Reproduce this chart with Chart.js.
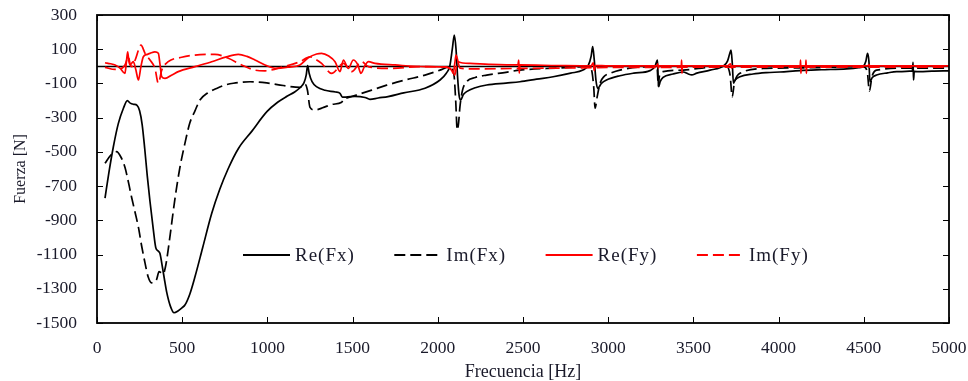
<!DOCTYPE html>
<html>
<head>
<meta charset="utf-8">
<script src="https://cdn.jsdelivr.net/npm/chart.js@4.4.1/dist/chart.umd.min.js"></script>
<style>
html,body{margin:0;padding:0;background:#fff;}
#wrap{width:968px;height:381px;position:relative;}
</style>
</head>
<body>
<div id="wrap"><canvas id="c" width="968" height="381"></canvas></div>
<script>
// ---- data ----
const xTickValues = [0,500,1000,1500,2000,2500,3000,3500,4000,4500,5000];
const yTickValues = [-1500,-1300,-1100,-900,-700,-500,-300,-100,100,300];

const reFxFreq = [47,70,96,125,155,178,195,215,235,250,265,280,295,311,330,345,360,370,380,395,409,430,452,475,500,516,545,575,620,673,720,769,830,908,997,1060,1115,1160,1191,1215,1228,1236,1245,1262,1290,1338,1400,1426,1440,1460,1514,1573,1602,1650,1708,1800,1925,2013,2050,2070,2085,2097,2107,2116,2125,2134,2150,2169,2220,2287,2400,2482,2580,2677,2780,2852,2883,2900,2909,2918,2928,2938,2960,2990,3069,3150,3245,3275,3289,3292,3296,3305,3322,3380,3440,3470,3490,3520,3598,3680,3700,3712,3721,3728,3735,3745,3773,3850,3929,4008,4126,4250,4399,4470,4497,4512,4522,4530,4536,4550,4575,4640,4693,4785,4789,4792,4796,4830,4900,5000];
const reFxVal = [-770,-620,-470,-335,-245,-200,-215,-222,-228,-260,-340,-480,-640,-790,-950,-1060,-1080,-1095,-1150,-1240,-1320,-1400,-1440,-1430,-1410,-1395,-1330,-1230,-1060,-860,-720,-600,-480,-380,-265,-210,-175,-150,-125,-95,-50,5,-40,-90,-120,-140,-150,-158,-180,-180,-175,-182,-193,-185,-177,-155,-128,-80,-40,0,100,183,100,-60,-170,-197,-165,-148,-125,-109,-98,-90,-75,-61,-40,-22,5,60,115,40,-80,-129,-100,-80,-55,-40,-25,0,37,-40,-119,-90,-65,-45,-33,-45,-50,-40,-22,5,30,70,95,20,-99,-80,-61,-45,-37,-33,-25,-20,-15,-8,0,30,76,30,-90,-65,-51,-38,-31,-27,24,-80,-30,-31,-28,-26];

const imFxFreq = [47,80,115,140,164,185,203,225,243,262,282,300,320,335,350,364,375,389,400,409,430,458,485,516,545,575,604,650,702,750,800,898,996,1093,1191,1221,1235,1250,1279,1330,1380,1436,1448,1455,1530,1612,1700,1808,1925,2013,2072,2095,2105,2114,2122,2130,2145,2169,2220,2287,2400,2482,2700,2874,2900,2915,2923,2935,2952,2975,3011,3069,3245,3287,3294,3300,3322,3440,3550,3695,3715,3728,3740,3773,3929,4200,4497,4520,4533,4548,4575,4785,5000];
const imFxVal = [-567,-520,-499,-530,-590,-680,-765,-860,-940,-1050,-1150,-1230,-1265,-1262,-1245,-1200,-1205,-1214,-1180,-1132,-980,-770,-600,-450,-330,-260,-197,-155,-129,-110,-99,-90,-97,-112,-123,-105,-140,-240,-255,-240,-222,-210,-190,-188,-165,-139,-110,-80,-51,-22,-2,-50,-200,-372,-330,-236,-140,-90,-65,-51,-35,-22,-10,-2,-15,-120,-245,-180,-99,-60,-41,-22,-2,-10,-115,-60,-31,-22,-10,0,-50,-178,-100,-41,-12,-8,-2,-30,-145,-60,-22,-10,-10];

const reFyFreq = [47,80,106,135,164,172,180,187,194,213,228,243,258,272,295,311,340,360,370,380,399,440,477,575,673,760,829,880,927,986,1054,1120,1191,1240,1289,1318,1360,1397,1426,1446,1475,1504,1530,1549,1570,1593,1632,1749,1925,2050,2081,2091,2100,2107,2121,2189,2300,2470,2475,2478,2482,2700,2900,2912,2918,2925,3000,3286,3290,3294,3300,3429,3431,3433,3435,3700,3718,3724,3730,4127,4129,4131,4133,4159,4161,4163,4165,4525,4530,4535,5000];
const reFyVal = [21,15,8,-10,-41,20,85,30,8,27,-20,-80,0,56,70,76,85,76,10,-61,-70,-50,-31,-2,27,55,70,58,37,8,-12,-5,8,50,72,76,60,27,-31,37,-12,37,10,-41,0,27,17,8,-2,-5,-22,-41,20,66,27,17,12,8,37,-40,8,5,3,20,-25,5,3,3,15,-10,3,3,37,-41,3,3,15,-10,3,3,37,-41,3,3,37,-41,3,3,10,3,3];

const imFyFreq = [47,106,145,165,184,195,203,225,245,258,282,311,340,360,380,418,497,575,692,771,849,927,986,1093,1191,1250,1285,1318,1377,1446,1494,1553,1593,1710,1906,2050,2090,2100,2115,2130,2200,2500,2900,3000,5000];
const imFyVal = [-6,-18,-12,10,56,10,-2,40,100,124,76,37,-12,-99,-22,27,53,66,70,47,8,-22,-26,-2,27,56,40,17,-41,17,-31,27,-2,-12,-2,-5,-30,-51,30,-10,-15,-12,-8,-6,-5];

const seriesLabels = ['Re(Fx)','Im(Fx)','Re(Fy)','Im(Fy)'];

function pts(fr, vals){ return fr.map((f,i)=>({x:f,y:vals[i]})); }

const FONT = '"Liberation Serif", "DejaVu Serif", serif';
const TXT = '#1a1a2a';

const framePlugin = {
  id:'frame',
  beforeDatasetsDraw(chart){
    const {ctx, chartArea:a, scales:{y}} = chart;
    ctx.save();
    ctx.strokeStyle = '#000'; ctx.lineWidth = 1.3;
    const y0 = Math.round(y.getPixelForValue(0))+0.5;
    ctx.beginPath(); ctx.moveTo(a.left,y0); ctx.lineTo(a.right,y0); ctx.stroke();
    ctx.restore();
  },
  afterDatasetsDraw(chart){
    const {ctx, chartArea:a, scales:{x,y}} = chart;
    ctx.save();
    ctx.strokeStyle = '#000'; ctx.lineWidth = 1;
    const L = 6;
    ctx.beginPath();
    xTickValues.forEach(v=>{
      const px = Math.round(x.getPixelForValue(v))+0.5;
      ctx.moveTo(px,a.bottom); ctx.lineTo(px,a.bottom-L);
      ctx.moveTo(px,a.top); ctx.lineTo(px,a.top+L);
    });
    yTickValues.forEach(v=>{
      const py = Math.round(y.getPixelForValue(v))+0.5;
      ctx.moveTo(a.left,py); ctx.lineTo(a.left+L,py);
      ctx.moveTo(a.right,py); ctx.lineTo(a.right-L,py);
    });
    ctx.stroke();
    ctx.lineWidth = 1.8;
    ctx.strokeRect(a.left, a.top, a.right-a.left, a.bottom-a.top);
    // legend
    const ly = 255, x0 = 243, step = 151.3;
    ctx.font = '19px ' + FONT;
    try { ctx.letterSpacing = '1px'; } catch(e) {}
    ctx.textBaseline = 'middle';
    ctx.fillStyle = TXT;
    chart.data.datasets.forEach((ds,i)=>{
      const sx = x0 + i*step;
      ctx.strokeStyle = ds.borderColor;
      ctx.lineWidth = 2;
      ctx.setLineDash(ds.borderDash || []);
      ctx.beginPath(); ctx.moveTo(sx,ly); ctx.lineTo(sx+47,ly); ctx.stroke();
      ctx.setLineDash([]);
      ctx.fillText(ds.label, sx+52, ly+1);
    });
    ctx.restore();
  }
};

const common = {pointRadius:0, borderWidth:1.7, fill:false, cubicInterpolationMode:'monotone'};

function noPad(s){ s.paddingTop = 0; s.paddingBottom = 0; s.paddingLeft = 0; s.paddingRight = 0; }

new Chart(document.getElementById('c'), {
  type:'line',
  data:{
    datasets:[
      Object.assign({label:seriesLabels[0], data:pts(reFxFreq,reFxVal), borderColor:'#000', order:4}, common),
      Object.assign({label:seriesLabels[1], data:pts(imFxFreq,imFxVal), borderColor:'#000', borderDash:[11,5], order:3}, common),
      Object.assign({label:seriesLabels[2], data:pts(reFyFreq,reFyVal), borderColor:'#ff0000', order:2}, common),
      Object.assign({label:seriesLabels[3], data:pts(imFyFreq,imFyVal), borderColor:'#ff0000', borderDash:[11,5], order:1}, common)
    ]
  },
  options:{
    responsive:false,
    animation:false,
    layout:{padding:{top:15,right:19,left:0,bottom:0}},
    plugins:{legend:{display:false}, tooltip:{enabled:false}},
    scales:{
      x:{
        type:'linear', min:0, max:5000,
        afterBuildTicks(s){ s.ticks = xTickValues.map(v=>({value:v})); },
        afterFit(s){ s.height = 58; noPad(s); },
        grid:{display:false, drawTicks:false},
        border:{display:false},
        ticks:{font:{family:FONT,size:17.5}, color:TXT, padding:15, maxRotation:0, autoSkip:false, callback:v=>String(v)},
        title:{display:true, text:'Frecuencia [Hz]', font:{family:FONT,size:18,lineHeight:1}, color:TXT, padding:{top:0,bottom:0}}
      },
      y:{
        type:'linear', min:-1500, max:300,
        afterBuildTicks(s){ s.ticks = yTickValues.map(v=>({value:v})); },
        afterFit(s){ s.width = 97; noPad(s); },
        grid:{display:false, drawTicks:false},
        border:{display:false},
        ticks:{font:{family:FONT,size:17.5}, color:TXT, padding:20, autoSkip:false, callback:v=>String(v)},
        title:{display:true, text:'Fuerza [N]', font:{family:FONT,size:16}, color:TXT, padding:{top:11,bottom:0}}
      }
    }
  },
  plugins:[framePlugin]
});
</script>
</body>
</html>
